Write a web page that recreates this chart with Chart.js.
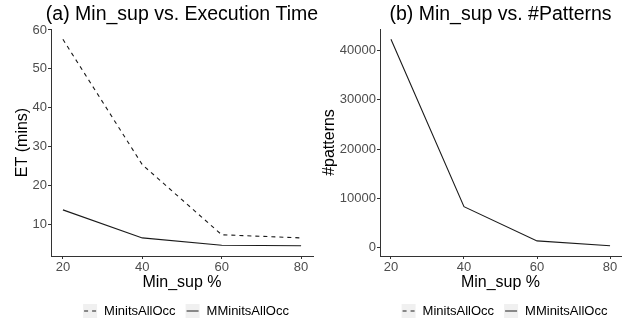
<!DOCTYPE html>
<html>
<head>
<meta charset="utf-8">
<script src="https://cdn.jsdelivr.net/npm/chart.js@4"></script>
<style>
	body { margin: 0; background: #fff; }
	#wrap { position: relative; width: 626px; height: 322px; }
	canvas { position: absolute; top: 0; }
</style>
</head>
<body>
<div id="wrap">
	<canvas id="et-viz" width="318" height="322" style="left:0px"></canvas>
	<canvas id="pat-viz" width="308" height="322" style="left:318px"></canvas>
</div>
<script>
// Data
var minsup = [ 20, 40, 60, 80 ];
var et_minits = [ 57.6, 25.4, 7.4, 6.6 ];		// MinitsAllOcc (dashed)
var et_mminits = [ 13.8, 6.6, 4.7, 4.6 ];		// MMinitsAllOcc (solid)
var pat_mminits = [ 42200, 8350, 1420, 450 ];	// MMinitsAllOcc (solid)
var series_names = [ 'MinitsAllOcc', 'MMinitsAllOcc' ];
var et_ticks = [ 10, 20, 30, 40, 50, 60 ];
var pat_ticks = [ 0, 10000, 20000, 30000, 40000 ];
var x_ticks = [ 20, 40, 60, 80 ];

var FONT = "'Liberation Sans', Arial, sans-serif";

// ggplot-like 5% expansion of a range
function expand(vals) {
	var lo = Math.min.apply(null, vals), hi = Math.max.apply(null, vals);
	var d = (hi - lo) * 0.05;
	return { min: lo - d, max: hi + d };
}

// Panel title + ggplot style legend keys, drawn centred over the plot panel
var panelDecor = {
	id: 'panelDecor',
	afterDraw: function(chart, args, opts) {
		var ctx = chart.ctx, ca = chart.chartArea;
		var cx = (ca.left + ca.right) / 2;
		ctx.save();
		ctx.fillStyle = '#000';
		ctx.textBaseline = 'middle';
		ctx.textAlign = 'center';
		ctx.font = '19.5px ' + FONT;
		ctx.fillText(opts.title, cx, 15);

		// legend
		ctx.font = '13px ' + FONT;
		var box = 14, gap = 7, itemGap = 10;
		var widths = series_names.map(function(s) { return box + gap + ctx.measureText(s).width; });
		var total = widths[0] + itemGap + widths[1];
		var x = cx + 4 - total / 2, y = 311;
		var dashes = [ [4, 4], [] ];
		ctx.textAlign = 'left';
		for (var i = 0; i < series_names.length; i++) {
			ctx.fillStyle = '#f0f0f0';
			ctx.fillRect(x, y - box / 2, box, box);
			ctx.strokeStyle = '#333';
			ctx.lineWidth = 1.1;
			ctx.setLineDash(dashes[i]);
			ctx.beginPath();
			ctx.moveTo(x + 1, y);
			ctx.lineTo(x + box - 1, y);
			ctx.stroke();
			ctx.setLineDash([]);
			ctx.fillStyle = '#000';
			ctx.fillText(series_names[i], x + box + gap, y);
			x += widths[i] + itemGap;
		}
		ctx.restore();
	}
};

function plain(v) { return String(v); }

function generate_viz(canvas_id, datasets, yTicks, yRange, title, yAxis_label, yAxisWidth, yTitlePad) {
	var ctx = document.getElementById(canvas_id);
	var xr = expand(minsup);
	var cfg = {
		type: 'line',
		data: { datasets: datasets },
		options: {
			responsive: false,
			animation: false,
			devicePixelRatio: 1,
			layout: { padding: { left: 0, right: 5, top: 29, bottom: 30 } },
			elements: { point: { radius: 0 }, line: { tension: 0 } },
			plugins: {
				legend: { display: false },
				tooltip: { enabled: false },
				panelDecor: { title: title }
			},
			scales: {
				x: {
					type: 'linear', min: xr.min, max: xr.max,
					afterBuildTicks: function(s) { s.ticks = x_ticks.map(function(v) { return { value: v }; }); },
					afterFit: function(s) { s.height = 36; },
					grid: { drawOnChartArea: false, drawTicks: true, tickLength: 3, color: '#333' },
					border: { display: true, color: '#333', width: 1 },
					ticks: { color: '#4d4d4d', font: { family: FONT, size: 13 }, padding: 1, maxRotation: 0, callback: plain },
					title: { display: true, text: 'Min_sup %', color: '#000', font: { family: FONT, size: 16 }, padding: { top: 0, bottom: 0 } }
				},
				y: {
					min: yRange.min, max: yRange.max,
					afterBuildTicks: function(s) { s.ticks = yTicks.map(function(v) { return { value: v }; }); },
					afterFit: function(s) { s.width = yAxisWidth; },
					grid: { drawOnChartArea: false, drawTicks: true, tickLength: 3, color: '#333' },
					border: { display: true, color: '#333', width: 1 },
					ticks: { color: '#4d4d4d', font: { family: FONT, size: 13 }, padding: 1, callback: plain },
					title: { display: true, text: yAxis_label, color: '#000', font: { family: FONT, size: 16 }, padding: { top: yTitlePad, bottom: 0 } }
				}
			}
		},
		plugins: [ panelDecor ]
	};
	new Chart(ctx, cfg);
}

function pts(ys) {
	return minsup.map(function(x, i) { return { x: x, y: ys[i] }; });
}

// (a) execution time
generate_viz('et-viz', [
		{ label: series_names[0], data: pts(et_minits), borderColor: '#1a1a1a', borderWidth: 1.1, borderDash: [4, 4] },
		{ label: series_names[1], data: pts(et_mminits), borderColor: '#1a1a1a', borderWidth: 1.1 }
	], et_ticks, expand(et_minits.concat(et_mminits)),
	'(a) Min_sup vs. Execution Time', 'ET (mins)', 51, 13);

// (b) number of patterns
generate_viz('pat-viz', [
		{ label: series_names[1], data: pts(pat_mminits), borderColor: '#1a1a1a', borderWidth: 1.1 }
	], pat_ticks, expand(pat_mminits),
	'(b) Min_sup vs. #Patterns', '#patterns', 62, 2);
</script>
</body>
</html>
